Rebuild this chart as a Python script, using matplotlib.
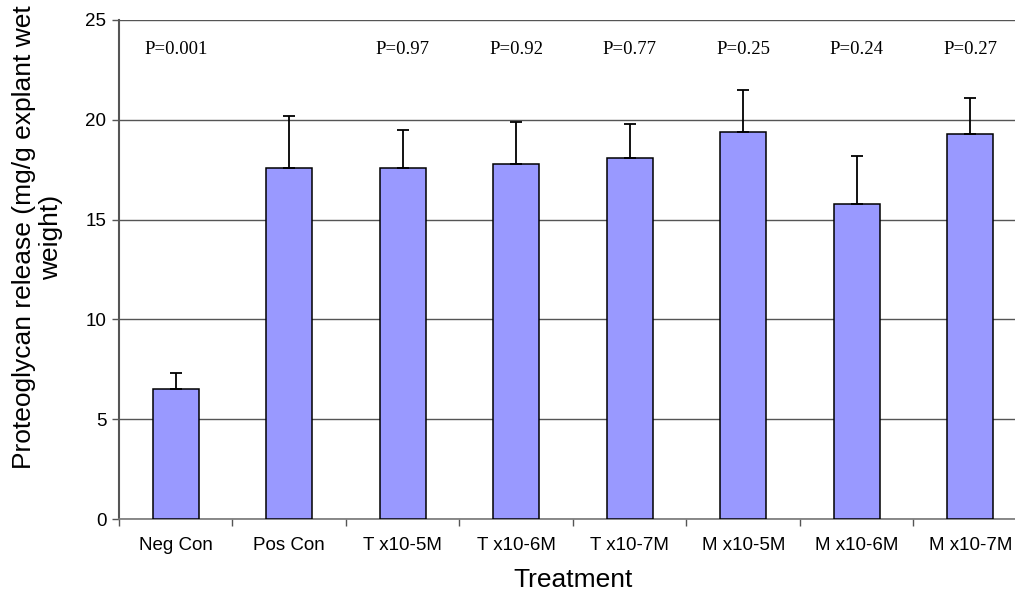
import numpy as np
import matplotlib.pyplot as plt

treatments = ['Neg Con', 'Pos Con', 'T x10-5M', 'T x10-6M', 'T x10-7M',
              'M x10-5M', 'M x10-6M', 'M x10-7M']
release = [6.5, 17.6, 17.6, 17.8, 18.1, 19.4, 15.8, 19.3]
sem = [0.8, 2.6, 1.9, 2.1, 1.7, 2.1, 2.4, 1.8]
p_values = ['P=0.001', '', 'P=0.97', 'P=0.92', 'P=0.77', 'P=0.25', 'P=0.24', 'P=0.27']

plt.rcParams['font.family'] = ['Liberation Sans', 'DejaVu Sans']

fig = plt.figure(figsize=(10.15, 6), dpi=100)
ax = fig.add_axes([0.1172, 0.135, 0.8946, 0.8317])

x = np.arange(len(treatments))
ax.bar(x, release, width=0.405, color='#9999FF', edgecolor='black', linewidth=1.1, zorder=3)
ax.errorbar(x, release, yerr=[np.zeros(len(sem)), sem], fmt='none', ecolor='black',
            elinewidth=1.3, capsize=4, capthick=1.3, zorder=4)

for xi, p in zip(x, p_values):
    if p:
        ax.text(xi, 23.5, p, ha='center', va='center', fontsize=13.5,
                family=['Liberation Serif', 'DejaVu Serif'])

ax.set_xlim(-0.5, 7.5)
ax.set_ylim(0, 25)
ax.set_yticks([0, 5, 10, 15, 20, 25])
ax.set_xticks(x)
ax.set_xticklabels(treatments, fontsize=13.5)
ax.set_xticks(np.arange(-0.5, 8, 1), minor=True)
ax.tick_params(axis='x', which='major', length=0, pad=13)
ax.tick_params(axis='x', which='minor', length=5, width=1, color='#555555')
ax.tick_params(axis='y', length=5, width=1, color='#555555', labelsize=13.5, pad=4)

ax.yaxis.grid(True, color='#555555', linewidth=1)
ax.set_axisbelow(True)
ax.spines['top'].set_visible(False)
ax.spines['right'].set_visible(False)
ax.spines['left'].set_color('#555555')
ax.spines['left'].set_linewidth(1.5)
ax.spines['bottom'].set_color('#777777')
ax.spines['bottom'].set_linewidth(1.2)

ax.set_xlabel('Treatment', fontsize=19, labelpad=10)
ax.set_ylabel('Proteoglycan release (mg/g explant wet\nweight)', fontsize=19,
              linespacing=1.12)
ax.yaxis.set_label_coords(-0.062, 0.565)

fig.savefig('out.png', dpi=100)
